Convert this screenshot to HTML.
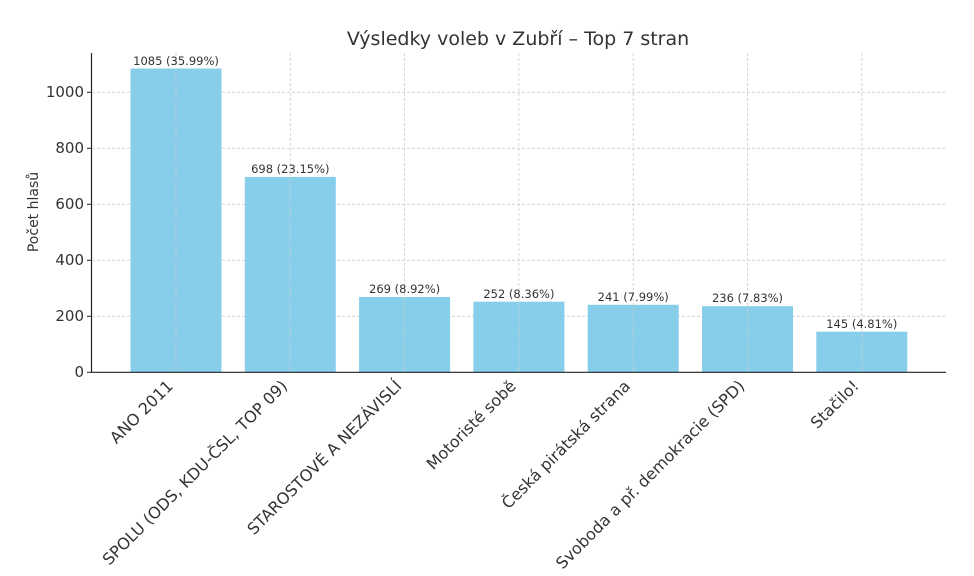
<!DOCTYPE html>
<html><head><meta charset="utf-8"><style>body{margin:0;background:#fff}svg{display:block}</style></head><body>
<svg width="974" height="576" xmlns="http://www.w3.org/2000/svg" font-family="DejaVu Sans, Liberation Sans, sans-serif">
<rect width="974" height="576" fill="#fff"/>
<text x="518" y="45" text-anchor="middle" font-size="19" fill="#333">Výsledky voleb v Zubří – Top 7 stran</text>
<g stroke="#ccc" stroke-dasharray="3,2" stroke-width="0.8">
<line x1="92" x2="946" y1="316.3" y2="316.3"/><line x1="92" x2="946" y1="260.3" y2="260.3"/><line x1="92" x2="946" y1="204.3" y2="204.3"/><line x1="92" x2="946" y1="148.3" y2="148.3"/><line x1="92" x2="946" y1="92.3" y2="92.3"/>
</g>
<g fill="#87ceeb">
<rect x="130.5" y="68.5" width="91" height="303.8"/>
<rect x="244.8" y="176.9" width="91" height="195.4"/>
<rect x="359.1" y="297" width="91" height="75.3"/>
<rect x="473.4" y="301.7" width="91" height="70.6"/>
<rect x="587.7" y="304.8" width="91" height="67.5"/>
<rect x="702" y="306.2" width="91" height="66.1"/>
<rect x="816.3" y="331.7" width="91" height="40.6"/>
</g>
<g stroke="#ccc" stroke-dasharray="3,2" stroke-width="0.8">
<line x1="176" x2="176" y1="53" y2="372"/><line x1="290.3" x2="290.3" y1="53" y2="372"/><line x1="404.6" x2="404.6" y1="53" y2="372"/><line x1="518.9" x2="518.9" y1="53" y2="372"/><line x1="633.2" x2="633.2" y1="53" y2="372"/><line x1="747.5" x2="747.5" y1="53" y2="372"/><line x1="861.8" x2="861.8" y1="53" y2="372"/>
</g>
<g stroke="#222" stroke-width="1.2"><line x1="91.5" y1="53" x2="91.5" y2="372.5"/><line x1="91" y1="372.3" x2="946" y2="372.3"/></g>
<g stroke="#222" stroke-width="1">
<line x1="87" x2="91" y1="372.3" y2="372.3"/><line x1="87" x2="91" y1="316.3" y2="316.3"/><line x1="87" x2="91" y1="260.3" y2="260.3"/><line x1="87" x2="91" y1="204.3" y2="204.3"/><line x1="87" x2="91" y1="148.3" y2="148.3"/><line x1="87" x2="91" y1="92.3" y2="92.3"/>
</g>
<g font-size="15" fill="#333" text-anchor="end">
<text x="84" y="377">0</text><text x="84" y="321">200</text><text x="84" y="265">400</text><text x="84" y="209">600</text><text x="84" y="153">800</text><text x="84" y="97">1000</text>
</g>
<text transform="translate(38,212) rotate(-90)" text-anchor="middle" font-size="14" fill="#333">Počet hlasů</text>
<g font-size="11.5" fill="#333" text-anchor="middle">
<text x="176" y="65">1085 (35.99%)</text>
<text x="290.3" y="173">698 (23.15%)</text>
<text x="404.6" y="293">269 (8.92%)</text>
<text x="518.9" y="298">252 (8.36%)</text>
<text x="633.2" y="301">241 (7.99%)</text>
<text x="747.5" y="302">236 (7.83%)</text>
<text x="861.8" y="328">145 (4.81%)</text>
</g>
<g font-size="16" fill="#333" text-anchor="end">
<text transform="translate(174,387) rotate(-45)">ANO 2011</text>
<text transform="translate(288.3,387) rotate(-45)">SPOLU (ODS, KDU-ČSL, TOP 09)</text>
<text transform="translate(402.6,387) rotate(-45)">STAROSTOVÉ A NEZÁVISLÍ</text>
<text transform="translate(516.9,387) rotate(-45)">Motoristé sobě</text>
<text transform="translate(631.2,387) rotate(-45)">Česká pirátská strana</text>
<text transform="translate(745.5,387) rotate(-45)">Svoboda a př. demokracie (SPD)</text>
<text transform="translate(859.8,387) rotate(-45)">Stačilo!</text>
</g>
</svg>
</body></html>
